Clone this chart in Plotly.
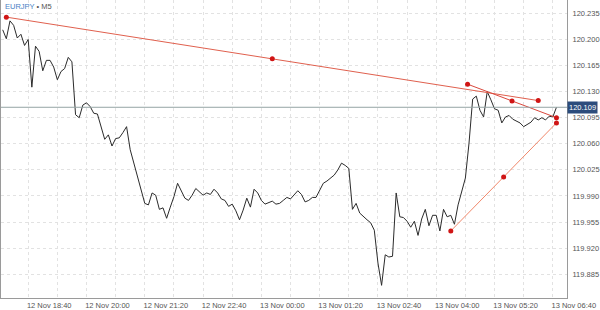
import plotly.graph_objects as go
import pandas as pd

# ---- data ----
symbol = "EURJPY"
timeframe = "M5"
start_time = "2015-11-12 18:05"
closes = [
    120.213, 120.201, 120.225, 120.219, 120.202, 120.207, 120.192, 120.200, 120.136, 120.191,
    120.184, 120.158, 120.172, 120.172, 120.163, 120.146, 120.157, 120.161, 120.176, 120.170,
    120.099, 120.095, 120.112, 120.115, 120.110, 120.101, 120.100, 120.084, 120.066, 120.072,
    120.057, 120.067, 120.068, 120.075, 120.083, 120.052, 120.034, 120.014, 119.998, 119.980,
    119.978, 119.994, 119.991, 119.972, 119.974, 119.960, 119.975, 119.989, 120.007, 119.998,
    119.987, 119.984, 119.991, 120.000, 119.996, 119.991, 119.994, 119.992, 119.999, 119.994,
    119.986, 119.984, 119.976, 119.979, 119.970, 119.958, 119.971, 119.987, 119.975, 119.999,
    119.994, 119.984, 119.979, 119.981, 119.983, 119.979, 119.980, 119.984, 119.988, 119.986,
    119.991, 119.997, 119.992, 119.982, 119.984, 119.988, 119.988, 119.998, 120.007, 120.010,
    120.014, 120.018, 120.025, 120.034, 120.031, 120.027, 119.972, 119.980, 119.967, 119.962,
    119.958, 119.954, 119.944, 119.900, 119.870, 119.911, 119.908, 119.909, 119.994, 119.962,
    119.961, 119.956, 119.948, 119.956, 119.937, 119.959, 119.972, 119.950, 119.964, 119.964,
    119.943, 119.972, 119.962, 119.964, 119.952, 119.978, 119.997, 120.014, 120.061, 120.120,
    120.124, 120.105, 120.096, 120.130, 120.119, 120.107, 120.105, 120.088, 120.096, 120.098,
    120.093, 120.090, 120.088, 120.083, 120.086, 120.089, 120.095, 120.092, 120.095, 120.092,
    120.097, 120.096, 120.109,
]
last_price = 120.109

y_ticks = [119.885, 119.920, 119.955, 119.990, 120.025, 120.060, 120.095,
           120.130, 120.165, 120.200, 120.235]

x_tick_times = [
    "2015-11-12 18:40", "2015-11-12 19:20", "2015-11-12 20:00", "2015-11-12 20:40",
    "2015-11-12 21:20", "2015-11-12 22:00", "2015-11-12 22:40", "2015-11-12 23:20",
    "2015-11-13 00:00", "2015-11-13 00:40", "2015-11-13 01:20", "2015-11-13 02:00",
    "2015-11-13 02:40", "2015-11-13 03:20", "2015-11-13 04:00", "2015-11-13 04:40",
    "2015-11-13 05:20", "2015-11-13 06:00", "2015-11-13 06:40",
]
x_tick_labels = [
    "12 Nov 18:40", "", "12 Nov 20:00", "", "12 Nov 21:20", "", "12 Nov 22:40", "",
    "13 Nov 00:00", "", "13 Nov 01:20", "", "13 Nov 02:40", "", "13 Nov 04:00", "",
    "13 Nov 05:20", "", "13 Nov 06:40",
]

# trend line drawings (start / end anchors)
trend_start_times = ["2015-11-12 18:10", "2015-11-13 04:43", "2015-11-13 04:20"]
trend_start_prices = [120.230, 120.140, 119.943]
trend_end_times = ["2015-11-13 06:20", "2015-11-13 06:45", "2015-11-13 06:45"]
trend_end_prices = [120.118, 120.095, 120.088]

# ---- styles ----
trend_colors = ["#e0604e", "#d9473c", "#f0876a"]
anchor_color = "#d01515"
x_range = ["2015-11-12 18:02:40", "2015-11-13 06:59:28"]
y_range = [119.853, 120.253]

times = pd.date_range(start_time, periods=len(closes), freq="5min")

fig = go.Figure()
fig.add_trace(go.Scatter(x=times, y=closes, mode="lines",
                         line=dict(color="#2b2b2b", width=1), hoverinfo="skip",
                         showlegend=False))

for t0, p0, t1, p1, c in zip(trend_start_times, trend_start_prices,
                             trend_end_times, trend_end_prices, trend_colors):
    ts0, ts1 = pd.Timestamp(t0), pd.Timestamp(t1)
    tm = ts0 + (ts1 - ts0) / 2
    pm = (p0 + p1) / 2
    fig.add_trace(go.Scatter(x=[ts0, ts1], y=[p0, p1], mode="lines",
                             line=dict(color=c, width=1), showlegend=False,
                             hoverinfo="skip"))
    fig.add_trace(go.Scatter(x=[ts0, tm, ts1], y=[p0, pm, p1], mode="markers",
                             marker=dict(color=anchor_color, size=5), showlegend=False,
                             hoverinfo="skip"))

fig.add_shape(type="line", xref="paper", x0=0, x1=1, yref="y",
              y0=last_price, y1=last_price, line=dict(color="#95a5a5", width=1))

fig.add_annotation(xref="paper", x=1, xanchor="left", yref="y", y=last_price,
                   text=f"{last_price:.3f}", showarrow=False, bgcolor="#2c4c7c",
                   font=dict(color="white", size=7.5, family="Liberation Sans, Arial"),
                   borderpad=1, xshift=0)

fig.add_annotation(xref="paper", yref="paper", x=0.004, y=1.0, xanchor="left",
                   yanchor="top", showarrow=False,
                   text=f"<span style='color:#4a7fc4'>{symbol}</span> • {timeframe}",
                   font=dict(color="#555555", size=7.5, family="Liberation Sans, Arial"))

fig.update_layout(
    width=600, height=310,
    margin=dict(l=0, r=31, t=0, b=12),
    paper_bgcolor="white", plot_bgcolor="white",
    font=dict(family="Liberation Sans, Arial", size=7.5, color="#555555"),
    xaxis=dict(type="date", range=x_range, tickvals=x_tick_times, ticktext=x_tick_labels,
               showgrid=True, gridcolor="#e2e2e2", griddash="dot", gridwidth=1,
               showline=True, linecolor="#9a9a9a", linewidth=1, ticks="",
               zeroline=False, ticklabelshift=21, ticklabelstandoff=0,
               tickfont=dict(size=7.5, color="#555555")),
    yaxis=dict(side="right", range=y_range, tickvals=y_ticks, tickformat=".3f",
               showgrid=True, gridcolor="#e2e2e2", griddash="dot", gridwidth=1,
               showline=True, mirror=True, linecolor="#9a9a9a", linewidth=1,
               ticks="", zeroline=False, ticklabelstandoff=3,
               tickfont=dict(size=7.5, color="#555555")),
)

fig.write_html("out.html")
